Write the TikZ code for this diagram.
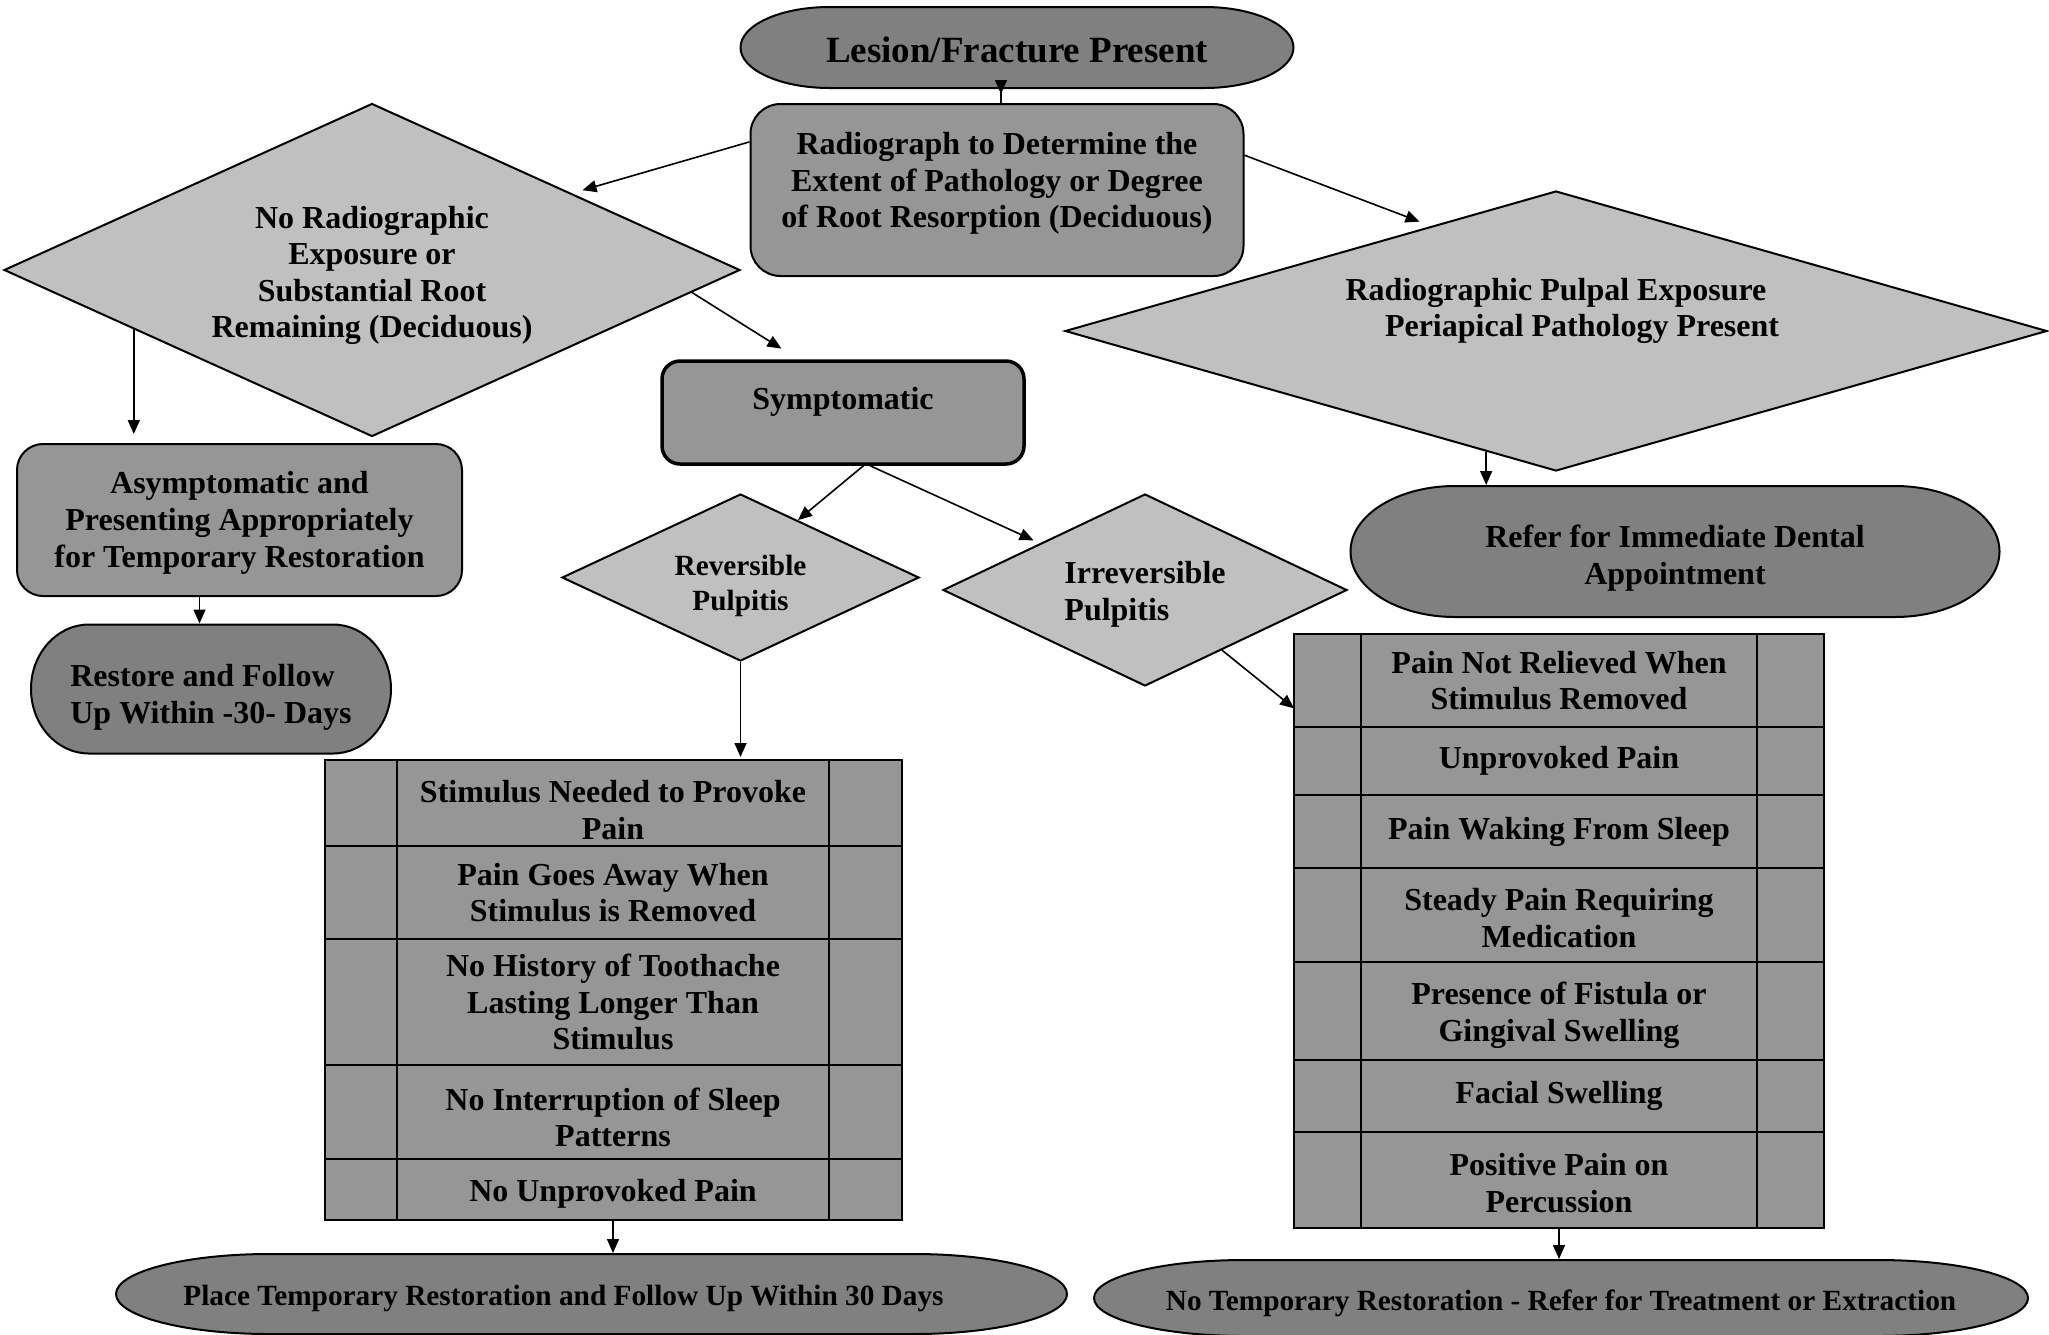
\documentclass[tikz,border=0pt]{standalone}
\usepackage{fontspec}
\setmainfont{Liberation Serif}
\usetikzlibrary{shapes.geometric,arrows.meta}

\definecolor{darkgrey}{RGB}{128,128,128}
\definecolor{midgrey}{RGB}{150,150,150}
\definecolor{lightgrey}{RGB}{192,192,192}

\tikzset{every picture/.style={line width=2pt}}
\tikzset{
	txt/.style={font=\fontsize{32}{36.6}\selectfont\bfseries, align=center},
	smalltxt/.style={font=\fontsize{29.3}{35}\selectfont\bfseries},
	arr/.style={line width=1.6pt, -{Triangle[length=14pt,width=12pt]}},
	termbox/.style={draw, fill=darkgrey},
	termtext/.style={txt, inner sep=0pt},
	procbox/.style={txt, draw, fill=midgrey, rounded corners=#1, inner sep=0pt},
	decision/.style={txt, diamond, draw, fill=lightgrey, inner sep=0pt},
	tabrow/.style={txt, draw, fill=midgrey, inner sep=0pt, outer sep=0pt,
		path picture={\draw ([xshift=#1]path picture bounding box.north west) -- ([xshift=#1]path picture bounding box.south west)
			([xshift=-#1]path picture bounding box.north east) -- ([xshift=-#1]path picture bounding box.south east);}}
}

% invisible struts to move text down (top) or up (bottom) inside its box
\newcommand{\topgap}[1]{\rule{0pt}{#1}}
\newcommand{\botgap}[1]{\rule[-#1]{0pt}{#1}}

% terminator: [node options]{name}{x}{y}{width}{height}{text}
\newcommand{\terminator}[7][]{%
	\pgfmathsetmacro{\tmX}{0.161*#5}%
	\pgfmathsetmacro{\tmY}{#6/2}%
	\pgfmathsetmacro{\tmL}{#3-#5/2+\tmX}%
	\pgfmathsetmacro{\tmR}{#3+#5/2-\tmX}%
	\pgfmathsetmacro{\tmT}{#4-\tmY}%
	\pgfmathsetmacro{\tmB}{#4+\tmY}%
	\pgfmathsetmacro{\tmKX}{0.5523*\tmX}%
	\pgfmathsetmacro{\tmKY}{0.5523*\tmY}%
	\draw[termbox] (\tmL,\tmT) -- (\tmR,\tmT) .. controls (\tmR+\tmKX,\tmT) and (\tmR+\tmX,#4-\tmKY) .. (\tmR+\tmX,#4) .. controls (\tmR+\tmX,#4+\tmKY) and (\tmR+\tmKX,\tmB) .. (\tmR,\tmB) -- (\tmL,\tmB) .. controls (\tmL-\tmKX,\tmB) and (\tmL-\tmX,#4+\tmKY) .. (\tmL-\tmX,#4) .. controls (\tmL-\tmX,#4-\tmKY) and (\tmL-\tmKX,\tmT) .. (\tmL,\tmT) -- cycle;
	\node[termtext, minimum height=#6pt, #1] (#2) at (#3,#4) {#7};
}

\begin{document}
\begin{tikzpicture}[x=1pt,y=1pt,yscale=-1,xscale=1]
	\useasboundingbox (0,0) rectangle (2049,1334);

	%Shape: Terminator
	\terminator[font=\fontsize{37}{42}\selectfont\bfseries]{lesion}{1017}{47.5}{553}{81}{\topgap{31pt}Lesion/Fracture Present}
	%Shape: Rectangle
	\node[procbox=30pt, minimum width=493pt, minimum height=172pt] (rad) at (997,190) {Radiograph to Determine the\\Extent of Pathology or Degree\\of Root Resorption (Deciduous)\botgap{20pt}};

	%Shape: Diamond
	\node[decision, aspect=2.21, minimum width=736pt, minimum height=333pt] (nodiag) at (372,270) {\topgap{33pt}No Radiographic\\Exposure or\\Substantial Root\\Remaining (Deciduous)};
	%Shape: Diamond
	\node[decision, aspect=3.5, minimum width=982pt, minimum height=280pt] (pulpal) at (1556,331) {Radiographic Pulpal Exposure\\\hspace*{52pt}Periapical Pathology Present\\\strut};

	%Shape: Rectangle
	\node[procbox=18pt, line width=3.5pt, minimum width=362pt, minimum height=103pt] (symp) at (843,412.5) {\topgap{41pt}Symptomatic\\\strut};
	%Shape: Rectangle
	\node[procbox=26pt, minimum width=445pt, minimum height=152pt] (asym) at (239.5,520) {\topgap{28pt}Asymptomatic and\\Presenting Appropriately\\for Temporary Restoration};

	%Shape: Terminator
	\terminator[align=left]{restore}{211}{689}{360}{129}{\topgap{39pt}Restore and Follow\\Up Within -30- Days}
	%Shape: Terminator
	\terminator{refer}{1675}{551.5}{649}{131}{\topgap{36pt}Refer for Immediate Dental\\Appointment}

	%Shape: Diamond
	\node[decision, smalltxt, aspect=2.14, minimum width=357pt, minimum height=167pt] (rev) at (740.5,577.5) {\topgap{37pt}Reversible\\Pulpitis};
	%Shape: Diamond
	\node[decision, align=left, aspect=2.1, minimum width=404pt, minimum height=192pt] (irrev) at (1145,590) {\topgap{31pt}Irreversible\\Pulpitis};

	%Shape: Table Rows
	\node[tabrow=72.5pt, minimum width=577pt, minimum height=86pt] (lt1) at (613,803) {\topgap{36pt}Stimulus Needed to Provoke\\Pain};
	\node[tabrow=72.5pt, minimum width=577pt, minimum height=93pt] (lt2) at (613,892.5) {Pain Goes Away When\\Stimulus is Removed};
	\node[tabrow=72.5pt, minimum width=577pt, minimum height=126pt] (lt3) at (613,1002) {No History of Toothache\\Lasting Longer Than\\Stimulus};
	\node[tabrow=72.5pt, minimum width=577pt, minimum height=94pt] (lt4) at (613,1112) {\topgap{33pt}No Interruption of Sleep\\Patterns};
	\node[tabrow=72.5pt, minimum width=577pt, minimum height=61pt] (lt5) at (613,1189.5) {\topgap{31pt}No Unprovoked Pain};

	%Shape: Table Rows
	\node[tabrow=67pt, minimum width=530pt, minimum height=93pt] (rt1) at (1559,680.5) {Pain Not Relieved When\\Stimulus Removed};
	\node[tabrow=67pt, minimum width=530pt, minimum height=68pt] (rt2) at (1559,761) {Unprovoked Pain};
	\node[tabrow=67pt, minimum width=530pt, minimum height=73pt] (rt3) at (1559,831.5) {Pain Waking From Sleep};
	\node[tabrow=67pt, minimum width=530pt, minimum height=94pt] (rt4) at (1559,915) {\topgap{28pt}Steady Pain Requiring\\Medication};
	\node[tabrow=67pt, minimum width=530pt, minimum height=98pt] (rt5) at (1559,1011) {\topgap{31pt}Presence of Fistula or\\Gingival Swelling};
	\node[tabrow=67pt, minimum width=530pt, minimum height=72pt] (rt6) at (1559,1096) {Facial Swelling};
	\node[tabrow=67pt, minimum width=530pt, minimum height=96pt] (rt7) at (1559,1180) {\topgap{28pt}Positive Pain on\\Percussion};

	%Shape: Terminator
	\terminator[smalltxt, xshift=-28pt]{bl}{591.5}{1294}{951}{80}{\topgap{29pt}Place Temporary Restoration and Follow Up Within 30 Days}
	%Shape: Terminator
	\terminator[smalltxt]{br}{1561}{1298}{934}{76}{\topgap{31pt}No Temporary Restoration - Refer for Treatment or Extraction}

	%Straight Lines
	\draw[arr, shorten <=-14pt, shorten >=9pt] ([xshift=-16pt]lesion.south) -- ([xshift=-16pt]lesion.south |- rad.north);
	\draw[arr, shorten >=11pt] (rad.169) -- (nodiag.21);
	\draw[arr, shorten >=12pt] (rad.8) -- (pulpal.140);
	\draw[arr, shorten >=9pt] (nodiag.194) -- (nodiag.194 |- asym.north);
	\draw[arr, shorten >=20pt] (nodiag.356) -- (symp.130);
	\draw[arr] (pulpal.240) -- (pulpal.240 |- refer.north);
	\draw[arr] ([xshift=-40pt]asym.south) -- ([xshift=-40pt]asym.south |- restore.north);
	\draw[arr] (symp.291) -- (rev.45);
	\draw[arr, shorten >=7pt] (symp.297) -- (irrev.156);
	\draw[arr, shorten >=3pt] (rev.south) -- (rev.south |- lt1.north);
	\draw[arr] (irrev.322) -- (rt1.186);
	\draw[arr] (lt5.south) -- (lt5.south |- bl.north);
	\draw[arr] (rt7.south) -- (rt7.south |- br.north);

\end{tikzpicture}
\end{document}
